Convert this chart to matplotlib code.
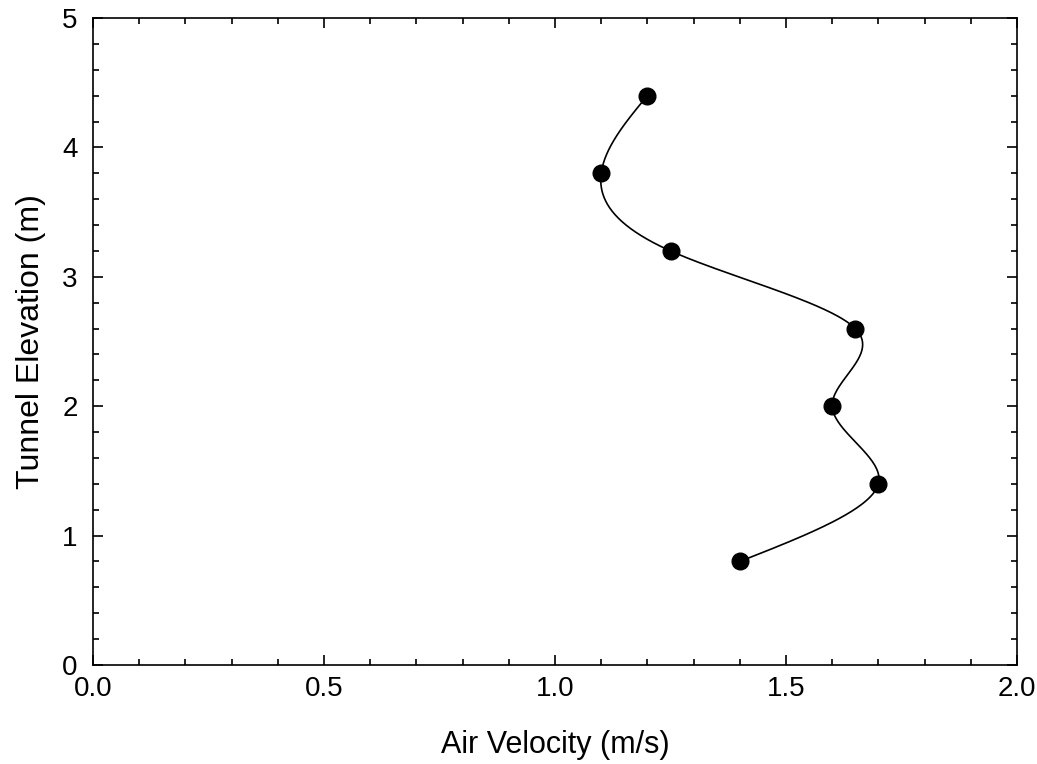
import numpy as np
import matplotlib
matplotlib.use("Agg")
import matplotlib.pyplot as plt
from matplotlib.ticker import MultipleLocator

# measured profile
velocity = [1.4, 1.7, 1.6, 1.65, 1.25, 1.1, 1.2]
elevation = [0.8, 1.4, 2.0, 2.6, 3.2, 3.8, 4.4]


def natural_spline(xk, yk, xs):
    """Natural cubic spline of yk(xk), evaluated at xs."""
    xk = np.asarray(xk, float)
    yk = np.asarray(yk, float)
    n = len(xk)
    h = np.diff(xk)
    A = np.zeros((n, n))
    b = np.zeros(n)
    A[0, 0] = A[-1, -1] = 1.0
    for i in range(1, n - 1):
        A[i, i - 1] = h[i - 1]
        A[i, i] = 2 * (h[i - 1] + h[i])
        A[i, i + 1] = h[i]
        b[i] = 6 * ((yk[i + 1] - yk[i]) / h[i] - (yk[i] - yk[i - 1]) / h[i - 1])
    m = np.linalg.solve(A, b)
    idx = np.clip(np.searchsorted(xk, xs) - 1, 0, n - 2)
    x0, x1 = xk[idx], xk[idx + 1]
    hh = x1 - x0
    t0 = x1 - xs
    t1 = xs - x0
    return (m[idx] * t0**3 / (6 * hh) + m[idx + 1] * t1**3 / (6 * hh)
            + (yk[idx] / hh - m[idx] * hh / 6) * t0
            + (yk[idx + 1] / hh - m[idx + 1] * hh / 6) * t1)


plt.rcParams['font.family'] = ['Liberation Sans', 'DejaVu Sans']

fig = plt.figure(figsize=(10.37, 7.64), dpi=100)
ax = fig.add_axes([93 / 1037, 1 - 665 / 764, 924 / 1037, 647 / 764])

ys = np.linspace(elevation[0], elevation[-1], 400)
xs = natural_spline(elevation, velocity, ys)
ax.plot(xs, ys, color='black', lw=1.2)
ax.plot(velocity, elevation, 'o', color='black', ms=12)

ax.set_xlim(0, 2)
ax.set_ylim(0, 5)
ax.xaxis.set_major_locator(MultipleLocator(0.5))
ax.xaxis.set_minor_locator(MultipleLocator(0.1))
ax.yaxis.set_major_locator(MultipleLocator(1))
ax.yaxis.set_minor_locator(MultipleLocator(0.2))
ax.xaxis.set_major_formatter(plt.FormatStrFormatter('%.1f'))
ax.tick_params(which='both', direction='in', top=True, right=True,
               width=1.2, labelsize=20)
ax.tick_params(which='major', length=7)
ax.tick_params(axis='x', which='major', pad=8)
ax.tick_params(axis='y', which='major', pad=11)
ax.tick_params(which='minor', length=4.5)
for s in ax.spines.values():
    s.set_linewidth(1.2)

ax.set_xlabel('Air Velocity (m/s)', fontsize=22, labelpad=20)
ax.set_ylabel('Tunnel Elevation (m)', fontsize=23, labelpad=12)

fig.savefig('out.png', dpi=100)
